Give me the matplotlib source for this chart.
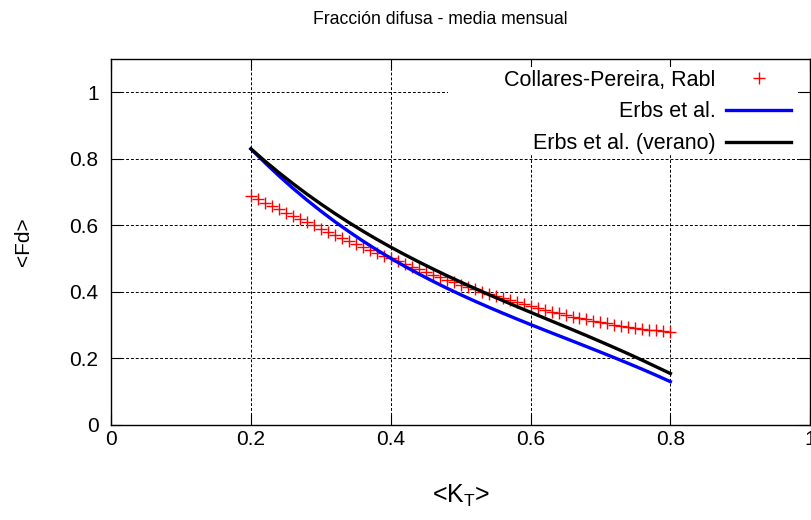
import matplotlib
matplotlib.use('Agg')
from matplotlib import pyplot as plt
from matplotlib.patches import Rectangle

plt.rcParams['font.family'] = ['Liberation Sans', 'DejaVu Sans']

# Collares-Pereira, Rabl (KT de 0.20 a 0.80, paso 0.01)
kt_cpr = [0.20 + 0.01 * i for i in range(61)]
fd_cpr = [0.6873, 0.6773, 0.6674, 0.6575, 0.6477, 0.6379, 0.6282, 0.6185,
          0.6089, 0.5994, 0.5899, 0.5805, 0.5712, 0.5620, 0.5528, 0.5438,
          0.5348, 0.5259, 0.5172, 0.5085, 0.4999, 0.4915, 0.4832, 0.4750,
          0.4669, 0.4589, 0.4511, 0.4434, 0.4358, 0.4283, 0.4210, 0.4139,
          0.4069, 0.4000, 0.3933, 0.3867, 0.3803, 0.3741, 0.3680, 0.3621,
          0.3563, 0.3508, 0.3453, 0.3401, 0.3350, 0.3302, 0.3254, 0.3209,
          0.3166, 0.3124, 0.3084, 0.3047, 0.3011, 0.2977, 0.2944, 0.2914,
          0.2886, 0.2860, 0.2835, 0.2813, 0.2793]

# Erbs et al. (KT de 0.20 a 0.80, paso 0.02)
kt_erbs = [0.20 + 0.02 * i for i in range(31)]
fd_erbs = [0.8295, 0.7878, 0.7483, 0.7110, 0.6757, 0.6423, 0.6107, 0.5809,
           0.5526, 0.5258, 0.5005, 0.4764, 0.4536, 0.4318, 0.4110, 0.3911,
           0.3720, 0.3536, 0.3358, 0.3184, 0.3014, 0.2847, 0.2682, 0.2518,
           0.2352, 0.2186, 0.2017, 0.1845, 0.1669, 0.1487, 0.1298]
fd_erbs_verano = [0.8291, 0.7926, 0.7579, 0.7250, 0.6935, 0.6637, 0.6352,
                  0.6081, 0.5823, 0.5576, 0.5340, 0.5114, 0.4897, 0.4689,
                  0.4486, 0.4291, 0.4102, 0.3917, 0.3737, 0.3558, 0.3382,
                  0.3207, 0.3033, 0.2858, 0.2682, 0.2502, 0.2319, 0.2132,
                  0.1940, 0.1741, 0.1543]

xticks = [0, 0.2, 0.4, 0.6, 0.8, 1]
xticklabels = ['0', '0.2', '0.4', '0.6', '0.8', '1']
yticks = [0, 0.2, 0.4, 0.6, 0.8, 1]
yticklabels = ['0', '0.2', '0.4', '0.6', '0.8', '1']

fig = plt.figure(figsize=(8.11, 5.2), dpi=100)
ax = fig.add_axes([0.137, 0.183, 0.862, 0.704])

ax.plot(kt_cpr, fd_cpr, ls='', marker='+', color='red', ms=8, mew=1,
        label='Collares-Pereira, Rabl')
ax.plot(kt_erbs, fd_erbs, color='blue', lw=2.4, label='Erbs et al.')
ax.plot(kt_erbs, fd_erbs_verano, color='black', lw=2.4,
        label='Erbs et al. (verano)')

ax.set_xlim(0, 1)
ax.set_ylim(0, 1.1)
ax.set_xticks(xticks)
ax.set_xticklabels(xticklabels)
ax.set_yticks(yticks)
ax.set_yticklabels(yticklabels)
ax.tick_params(direction='in', length=8, top=True, right=True, labelsize=15)
ax.tick_params(axis='x', pad=4)
ax.tick_params(axis='y', pad=9)
ax.set_axisbelow(True)
ax.grid(True, color='black', ls=(0, (3, 2)), lw=0.7)
for s in ax.spines.values():
    s.set_linewidth(1)
    s.set_zorder(3)

# fondo blanco de la leyenda (tapa la rejilla, no las marcas)
ax.add_patch(Rectangle((0.482, 0.74), 0.5, 0.237, transform=ax.transAxes,
                       facecolor='white', edgecolor='none', zorder=1))

leg = ax.legend(loc='upper right', bbox_to_anchor=(0.988, 1.0),
                markerfirst=False, fontsize=15.5, handlelength=3.0,
                frameon=False, borderaxespad=0.1, borderpad=0.4,
                labelspacing=0.5, handletextpad=0.5)
for t in leg.get_texts():
    t.set_ha('right')

ax.set_ylabel('<Fd>', fontsize=15, labelpad=26)
ax.set_xlabel('<K$_\\mathregular{T}$>', fontsize=18, labelpad=24)
fig.text(0.543, 0.963, 'Fracción difusa - media mensual', ha='center',
         va='center', fontsize=12.7)

plt.savefig('out.png', dpi=100)
